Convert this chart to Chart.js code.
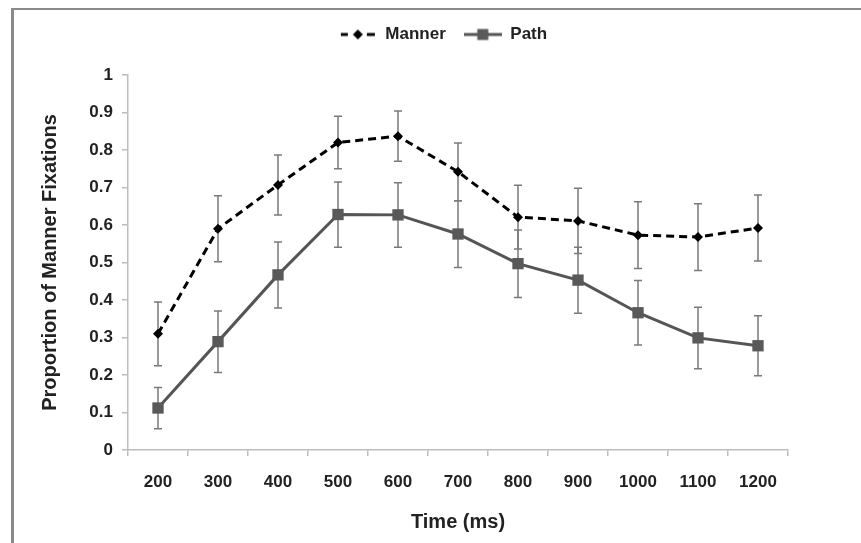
<!DOCTYPE html>
<html>
<head>
<meta charset="utf-8">
<script src="https://cdn.jsdelivr.net/npm/chart.js@4.4.1/dist/chart.umd.min.js"></script>
<style>
  html, body { margin: 0; padding: 0; background: #fff; overflow: hidden; }
  #frame { position: absolute; left: 11px; top: 8px; width: 900px; height: 600px;
           border-top: 2px solid #8a8a8a; border-left: 3px solid #8a8a8a; }
  #wrap { position: absolute; left: 0; top: 0; width: 861px; height: 543px; }
</style>
</head>
<body>
<div id="frame"></div>
<div id="wrap"><canvas id="chart" width="861" height="543"></canvas></div>
<script>
// valeurs
var times = ['200', '300', '400', '500', '600', '700', '800', '900', '1000', '1100', '1200'];
var manner    = [0.31, 0.59, 0.707, 0.82, 0.837, 0.742, 0.621, 0.611, 0.573, 0.568, 0.592];
var mannerErr = [0.085, 0.088, 0.08, 0.07, 0.067, 0.077, 0.085, 0.087, 0.089, 0.089, 0.088];
var path      = [0.112, 0.289, 0.467, 0.628, 0.627, 0.576, 0.497, 0.453, 0.366, 0.299, 0.278];
var pathErr   = [0.055, 0.082, 0.088, 0.087, 0.086, 0.089, 0.09, 0.088, 0.086, 0.082, 0.08];
var yTicks      = [0, 0.1, 0.2, 0.3, 0.4, 0.5, 0.6, 0.7, 0.8, 0.9, 1];
var yTickLabels = ['0', '0.1', '0.2', '0.3', '0.4', '0.5', '0.6', '0.7', '0.8', '0.9', '1'];

var FONT = "'Liberation Sans', Arial, sans-serif";
var TEXT = '#222';
var AXIS = '#bdbdbd';

function legendIcon(kind) {
  var c = document.createElement('canvas');
  c.width = 38; c.height = 14;
  var g = c.getContext('2d');
  if (kind === 'manner') {
    g.strokeStyle = '#000'; g.lineWidth = 3;
    g.beginPath(); g.moveTo(2, 7); g.lineTo(9, 7); g.moveTo(28, 7); g.lineTo(36, 7); g.stroke();
    g.fillStyle = '#000';
    g.beginPath(); g.moveTo(19, 2); g.lineTo(24, 7); g.lineTo(19, 12); g.lineTo(14, 7); g.closePath(); g.fill();
  } else {
    g.strokeStyle = '#555'; g.lineWidth = 3;
    g.beginPath(); g.moveTo(0, 7); g.lineTo(38, 7); g.stroke();
    g.fillStyle = '#595959';
    g.fillRect(13.5, 1.5, 11, 11);
  }
  return c;
}

var errors = [mannerErr, pathErr];

var errorBars = {
  id: 'errorBars',
  beforeDatasetsDraw: function(chart) {
    var ctx = chart.ctx, x = chart.scales.x, y = chart.scales.y;
    ctx.save();
    ctx.strokeStyle = '#7a7a7a';
    ctx.lineWidth = 1.5;
    chart.data.datasets.forEach(function(ds, d) {
      ds.data.forEach(function(v, i) {
        var px = x.getPixelForValue(i);
        var top = y.getPixelForValue(v + errors[d][i]);
        var bot = y.getPixelForValue(v - errors[d][i]);
        ctx.beginPath();
        ctx.moveTo(px, top); ctx.lineTo(px, bot);
        ctx.moveTo(px - 4, top); ctx.lineTo(px + 4, top);
        ctx.moveTo(px - 4, bot); ctx.lineTo(px + 4, bot);
        ctx.stroke();
      });
    });
    ctx.restore();
  }
};

// deplace la legende apres la mise en page
var moveLegend = {
  id: 'moveLegend',
  afterLayout: function(chart) {
    var lg = chart.legend;
    lg.left += 49; lg.right += 49;
    lg.top -= 22; lg.bottom -= 22;
  }
};

new Chart(document.getElementById('chart'), {
  type: 'line',
  data: {
    labels: times,
    datasets: [{
      label: 'Manner',
      data: manner,
      borderColor: '#000',
      borderWidth: 3,
      borderDash: [8, 5],
      pointStyle: 'rectRot',
      pointRadius: 5,
      pointBackgroundColor: '#000',
      pointBorderWidth: 0,
      tension: 0
    }, {
      label: 'Path',
      data: path,
      borderColor: '#555',
      borderWidth: 3,
      pointStyle: 'rect',
      pointRadius: 8,
      pointBackgroundColor: '#595959',
      pointBorderWidth: 0,
      tension: 0
    }]
  },
  options: {
    responsive: false,
    animation: false,
    devicePixelRatio: 1,
    layout: { padding: { left: 0, right: 73, top: 30, bottom: 0 } },
    plugins: {
      tooltip: { enabled: false },
      legend: {
        position: 'top',
        labels: {
          usePointStyle: true,
          pointStyleWidth: 38,
          padding: 18,
          color: TEXT,
          font: { family: FONT, size: 17, weight: 'bold' },
          generateLabels: function() {
            return [
              { text: 'Manner', pointStyle: legendIcon('manner'), fontColor: TEXT, lineWidth: 0, hidden: false, datasetIndex: 0 },
              { text: 'Path', pointStyle: legendIcon('path'), fontColor: TEXT, lineWidth: 0, hidden: false, datasetIndex: 1 }
            ];
          }
        }
      }
    },
    scales: {
      x: {
        afterFit: function(s) { s.height = 93; },
        offset: true,
        grid: { offset: true, drawOnChartArea: false, drawTicks: true, tickLength: 6, color: AXIS, lineWidth: 1.5 },
        border: { color: AXIS, width: 1.5 },
        ticks: { color: TEXT, padding: 16, maxRotation: 0, font: { family: FONT, size: 17, weight: 'bold' } },
        title: { display: true, text: 'Time (ms)', color: TEXT, padding: { top: 0, bottom: 9 },
                 font: { family: FONT, size: 20, weight: 'bold' } }
      },
      y: {
        min: 0,
        max: 1,
        afterFit: function(s) { s.width = 128; },
        afterBuildTicks: function(s) { s.ticks = yTicks.map(function(v) { return { value: v }; }); },
        grid: { drawOnChartArea: false, drawTicks: true, tickLength: 6, color: AXIS, lineWidth: 1.5 },
        border: { color: AXIS, width: 1.5 },
        ticks: {
          color: TEXT, padding: 9,
          font: { family: FONT, size: 17, weight: 'bold' },
          callback: function(v, i) { return yTickLabels[i]; }
        },
        title: { display: true, text: 'Proportion of Manner Fixations', color: TEXT, padding: { top: 38, bottom: 0 },
                 font: { family: FONT, size: 20, weight: 'bold' } }
      }
    }
  },
  plugins: [errorBars, moveLegend]
});
</script>
</body>
</html>
